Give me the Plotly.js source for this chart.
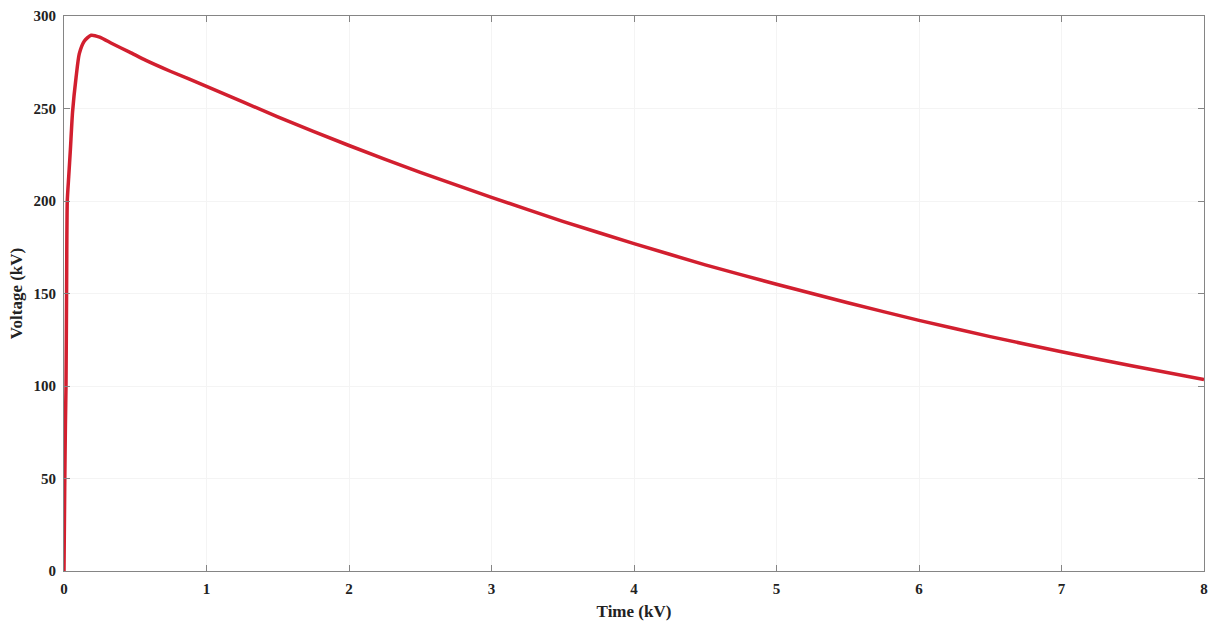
<!DOCTYPE html>
<html>
<head>
<meta charset="utf-8">
<script src="https://cdn.plot.ly/plotly-3.0.1.min.js"></script>
<style>html,body{margin:0;padding:0;background:#fff;}#chart{width:1218px;height:624px;}</style>
</head>
<body>
<div id="chart"></div>
<script>
const timeValues = [0, 0.005, 0.01, 0.014, 0.018, 0.023, 0.033, 0.045, 0.06, 0.085, 0.107, 0.143, 0.19, 0.25, 0.34, 0.46, 0.575, 0.75, 1, 1.5, 2, 2.5, 3, 3.5, 4, 4.5, 5, 5.5, 6, 6.5, 7, 7.5, 8];
const voltageValues = [0, 45, 80, 100, 150, 200, 213, 228, 248, 267, 279.5, 286.5, 289.6, 288.6, 285, 280.5, 276, 270, 262, 245.5, 230, 215.5, 202, 189, 177, 165.5, 155, 145, 135.5, 126.7, 118.5, 110.8, 103.5];
const xTicks = [0, 1, 2, 3, 4, 5, 6, 7, 8];
const yTicks = [0, 50, 100, 150, 200, 250, 300];
const xTitle = "Time (kV)";
const yTitle = "Voltage (kV)";

const fontFam = "Liberation Serif, Times New Roman, serif";
const axisCommon = {
  showline: true, linecolor: '#858585', linewidth: 1, mirror: 'ticks',
  ticks: 'inside', ticklen: 6, tickcolor: '#858585', tickwidth: 1,
  showgrid: true, gridcolor: '#f4f4f4', zeroline: false,
  tickfont: {family: fontFam, size: 15, color: '#222', weight: 'bold'}
};
const trace = {
  x: timeValues, y: voltageValues, type: 'scatter', mode: 'lines',
  line: {color: '#d21f2f', width: 3.5, shape: 'spline', smoothing: 0.6},
  hoverinfo: 'skip'
};
const layout = {
  width: 1218, height: 624,
  margin: {l: 64, r: 14, t: 16, b: 53},
  paper_bgcolor: '#fff', plot_bgcolor: '#fff',
  showlegend: false,
  xaxis: Object.assign({}, axisCommon, {
    range: [0, 8], tickvals: xTicks, ticktext: xTicks.map(String),
    ticklabelstandoff: 4,
    title: {text: '<b>' + xTitle + '</b>', font: {family: fontFam, size: 17, color: '#222'}, standoff: 9}
  }),
  yaxis: Object.assign({}, axisCommon, {
    range: [0, 300], tickvals: yTicks, ticktext: yTicks.map(String),
    ticklabelstandoff: 4,
    title: {text: '<b>' + yTitle + '</b>', font: {family: fontFam, size: 17, color: '#222'}, standoff: 6}
  })
};
Plotly.newPlot('chart', [trace], layout, {displayModeBar: false, staticPlot: true});
</script>
</body>
</html>
